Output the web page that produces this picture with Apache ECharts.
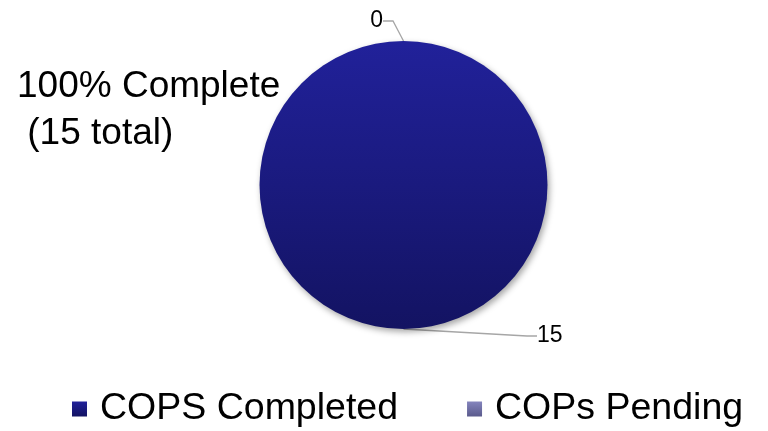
<!DOCTYPE html>
<html><head><meta charset="utf-8">
<script src="https://cdn.jsdelivr.net/npm/echarts@6/dist/echarts.min.js"></script>
<style>html,body{margin:0;padding:0;background:#fff}#c{width:768px;height:431px}</style>
</head><body><div id="c"></div>
<script>
const categories = ['COPS Completed', 'COPs Pending'];
const values = [15, 0];
const titleLines = ['100% Complete', ' (15 total)'];

const colors = [
  new echarts.graphic.LinearGradient(0, 0, 0, 1, [{offset: 0, color: '#21219a'}, {offset: 1, color: '#131362'}]),
  new echarts.graphic.LinearGradient(0, 0, 0, 1, [{offset: 0, color: '#8484bd'}, {offset: 1, color: '#5a5a8c'}])
];

const chart = echarts.init(document.getElementById('c'), null, {renderer: 'canvas'});
chart.setOption({
  animation: false,
  title: {
    text: titleLines.join('\n'),
    left: 17, top: 63,
    padding: 0,
    textStyle: {fontFamily: 'Liberation Sans', fontSize: 37, fontWeight: 'normal', color: '#000', lineHeight: 47}
  },
  legend: {
    top: 390, left: 72,
    padding: 0,
    itemWidth: 15, itemHeight: 15, itemGap: 69,
    icon: 'rect',
    textStyle: {fontFamily: 'Liberation Sans', fontSize: 37.5, color: '#000', padding: [0, 0, 0, 8]},
    data: categories
  },
  series: [{
    type: 'pie',
    center: [403.5, 185],
    radius: [0, 144],
    startAngle: 90,
    clockwise: true,
    avoidLabelOverlap: false,
    stillShowZeroSum: true,
    minShowLabelAngle: 0,
    label: {show: true, formatter: '{c}', fontFamily: 'Liberation Sans', fontSize: 23, color: '#000'},
    labelLine: {show: true, length: 12, length2: 10, lineStyle: {color: '#a6a6a6', width: 1.3}},
    itemStyle: {shadowBlur: 6, shadowColor: 'rgba(0,0,0,0.35)', shadowOffsetX: 2, shadowOffsetY: 3},
    labelLayout: function (p) {
      if (p.dataIndex === 0) return {x: 537, y: 336, align: 'left', verticalAlign: 'middle'};
      return {x: 383, y: 21, align: 'right', verticalAlign: 'middle'};
    },
    data: categories.map((n, i) => ({name: n, value: values[i], itemStyle: {color: colors[i]}}))
  }]
});
</script></body></html>
